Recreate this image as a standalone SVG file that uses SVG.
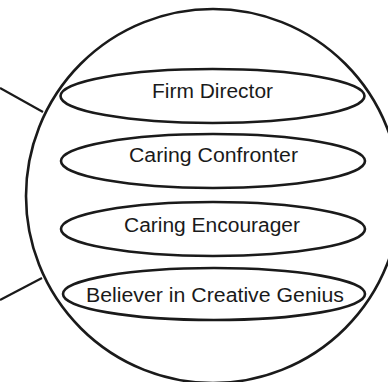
<svg xmlns="http://www.w3.org/2000/svg" width="388" height="382" viewBox="0 0 388 382">
<style>
.shape{fill:none;stroke:#1a1a1a;stroke-width:2.6}
.conn{fill:none;stroke:#1a1a1a;stroke-width:2.2}
.lbl{font-family:"Liberation Sans",Arial,sans-serif;font-size:20px;fill:#1a1a1a;text-anchor:middle}
</style>
<rect width="388" height="382" fill="#ffffff"/>
<g id="connectors">
<line class="conn" x1="0" y1="88" x2="43" y2="112"/>
<line class="conn" x1="0" y1="300" x2="42" y2="278"/>
</g>
<g id="circle">
<circle class="shape" cx="213" cy="196" r="187"/>
</g>
<g id="firm-director">
<ellipse class="shape" cx="212.5" cy="96" rx="152" ry="27"/>
<text class="lbl" x="212.5" y="98" textLength="121" lengthAdjust="spacingAndGlyphs">Firm Director</text>
</g>
<g id="caring-confronter">
<ellipse class="shape" cx="213" cy="161" rx="152" ry="27"/>
<text class="lbl" x="213.5" y="162" textLength="169" lengthAdjust="spacingAndGlyphs">Caring Confronter</text>
</g>
<g id="caring-encourager">
<ellipse class="shape" cx="213" cy="229" rx="152" ry="27"/>
<text class="lbl" x="212" y="232" textLength="176" lengthAdjust="spacingAndGlyphs">Caring Encourager</text>
</g>
<g id="believer">
<ellipse class="shape" cx="214" cy="294" rx="151" ry="26"/>
<text class="lbl" x="215" y="302" textLength="258" lengthAdjust="spacingAndGlyphs">Believer in Creative Genius</text>
</g>
</svg>
